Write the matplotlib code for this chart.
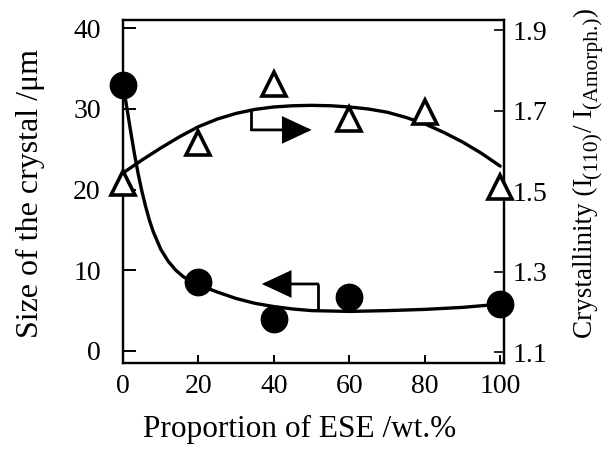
import matplotlib
matplotlib.use("Agg")
import matplotlib.pyplot as plt
from matplotlib.transforms import IdentityTransform

plt.rcParams['font.family'] = ['Liberation Serif', 'DejaVu Serif']

# measured data
ese = [0, 20, 40, 60, 100]
crystal_size = [33.0, 8.6, 4.0, 6.7, 5.8]

ese_tri = [0, 20, 40, 60, 80, 100]
crystallinity = [1.52, 1.62, 1.766, 1.68, 1.696, 1.51]

# fitted curves
size_fit_x = [0, 1, 2, 3, 4, 5, 6, 7, 8, 10, 12, 14, 16, 18, 20, 25, 30, 35, 40,
              45, 50, 55, 60, 70, 80, 90, 100]
size_fit_y = [33.0, 30.2, 27.3, 24.5, 22.0, 19.8, 17.9, 16.2, 14.8, 12.6, 11.1, 10.0,
              9.2, 8.6, 8.2, 7.3, 6.5, 5.9, 5.5, 5.2, 5.0, 4.95, 4.9, 5.0, 5.15, 5.4, 5.8]

cry_fit_x = [0, 5, 10, 15, 20, 25, 30, 35, 40, 45, 50, 55, 60, 65, 70, 75, 80, 85, 90, 95, 100]
cry_fit_y = [1.545, 1.577, 1.607, 1.635, 1.66, 1.679, 1.693, 1.703, 1.709, 1.712, 1.713,
             1.712, 1.709, 1.704, 1.696, 1.683, 1.667, 1.646, 1.622, 1.594, 1.562]

x_ticks = [0, 20, 40, 60, 80, 100]
left_ticks = [0, 10, 20, 30, 40]
right_ticks = [1.1, 1.3, 1.5, 1.7, 1.9]
right_ticklabels = ['1.1', '1.3', '1.5', '1.7', '1.9']

# right axis label pieces: (text, is_subscript)
right_label_parts = [('Crystallinity (I', False), ('(110)', True), ('/ I', False),
                     ('(Amorph.)', True), (')', False)]

# bracket arrows (data coordinates)
arrow_right = {'curve': (34.0, 1.705), 'corner': (34.0, 1.652), 'tip': (50.0, 1.652)}   # -> right axis
arrow_left = {'curve': (51.7, 4.95), 'corner': (51.7, 8.3), 'tip': (36.8, 8.3)}        # -> left axis

fig = plt.figure(figsize=(6.07, 4.49), dpi=100)
ax = fig.add_axes([123/607, 1 - 363/449, (504-123)/607, (363-20)/449])
ax2 = ax.twinx()

lw_curve = 2.4
ax.plot(size_fit_x, size_fit_y, color='k', lw=lw_curve, solid_capstyle='round',
        solid_joinstyle='round', zorder=2)
ax.plot(ese, crystal_size, 'o', color='k', markersize=19, clip_on=False, zorder=3)

ax2.plot(cry_fit_x, cry_fit_y, color='k', lw=lw_curve, solid_capstyle='round',
         solid_joinstyle='round', zorder=2)
ax2.plot(ese_tri, crystallinity, '^', markerfacecolor='white', markeredgecolor='k',
         markersize=17.5, markeredgewidth=2.6, clip_on=False, zorder=3)

# bracket arrows
for a, axis in ((arrow_right, ax2), (arrow_left, ax)):
    axis.plot([a['curve'][0], a['corner'][0]], [a['curve'][1], a['corner'][1]],
              color='k', lw=2.0, solid_capstyle='butt')
    axis.annotate('', xy=a['tip'], xytext=a['corner'],
                  arrowprops=dict(arrowstyle='-|>,head_length=0.9,head_width=0.42',
                                  mutation_scale=20, lw=2.0, color='k',
                                  shrinkA=0, shrinkB=0, joinstyle='miter'))

ax.set_xlim(0, 101)
ax.set_ylim(-1.49, 41.0)
ax2.set_ylim(1.073, 1.925)

ax.set_xticks(x_ticks)
ax.set_yticks(left_ticks)
ax2.set_yticks(right_ticks)
ax2.set_yticklabels(right_ticklabels)

for s in ['left', 'right', 'top', 'bottom']:
    ax.spines[s].set_linewidth(1.6)
    ax2.spines[s].set_linewidth(1.6)

ax.tick_params(axis='y', direction='in', length=9, width=1.4, labelsize=20, pad=16)
ax.tick_params(axis='x', direction='in', length=6, width=1.4, labelsize=20, pad=8)
ax2.tick_params(axis='y', direction='in', length=7, width=1.2, labelsize=20, pad=6)

fig.text(30/607, 1 - 193/449, 'Size of the crystal /\u03bcm', rotation=90,
         ha='center', va='center', fontsize=23)
fig.text(300/607, 1 - 429/449, 'Proportion of ESE /wt.%', ha='center', va='center', fontsize=22.5)

# right label assembled from pieces (rotated, reading bottom to top)
renderer = fig.canvas.get_renderer()
y_pos = 449 - 338
x_base = 592
for txt, sub in right_label_parts:
    t = fig.text(x_base + (5 if sub else 0), y_pos, txt, fontsize=15.5 if sub else 19.5,
                 rotation=90, rotation_mode='anchor', ha='left', va='baseline',
                 transform=IdentityTransform())
    bb = t.get_window_extent(renderer=renderer)
    y_pos += bb.height

fig.savefig('out.png', dpi=100)
